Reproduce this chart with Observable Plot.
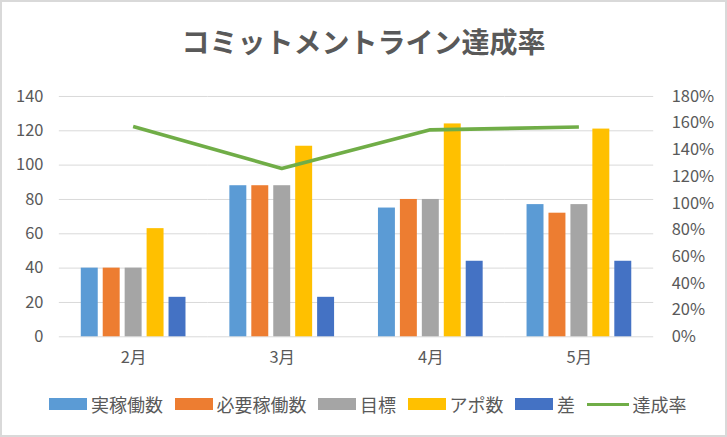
<!DOCTYPE html>
<html>
<head>
<meta charset="utf-8">
<script src="https://cdn.jsdelivr.net/npm/d3@7"></script>
<script src="https://cdn.jsdelivr.net/npm/@observablehq/plot@0.6"></script>
<style>
  html, body { margin: 0; padding: 0; background: #fff; }
  #chart { position: relative; width: 727px; height: 437px; box-sizing: border-box; border: 2px solid #d9d9d9; overflow: hidden; font-family: "Noto Sans CJK JP", "Noto Sans", sans-serif; color: #595959; }
  #title { position: absolute; left: 0; width: 723px; top: 19px; height: 40px; line-height: 40px; text-align: center; font-size: 28px; font-weight: bold; color: #595959; }
  .layer { position: absolute; left: -2px; top: 78px; }
  #legend { position: absolute; left: 47px; top: 390px; height: 24px; display: flex; align-items: center; font-size: 18px; line-height: 24px; color: #595959; white-space: nowrap; }
  .item { display: flex; align-items: center; margin-right: 11.5px; }
  .sw { width: 38px; height: 12px; margin-right: 4px; }
  .ln { width: 42px; height: 3px; margin-right: 4px; }
</style>
</head>
<body>
<div id="chart">
  <div id="title">コミットメントライン達成率</div>
  <div id="bars" class="layer"></div>
  <div id="line" class="layer"></div>
  <div id="legend"></div>
</div>
<script>
const months = ["2月", "3月", "4月", "5月"];
const seriesNames = ["実稼働数", "必要稼働数", "目標", "アポ数", "差"];
const actual   = [40, 88, 75, 77];
const required = [40, 88, 80, 72];
const target   = [40, 88, 80, 77];
const appo     = [63, 111, 124, 121];
const diff     = [23, 23, 44, 44];
const rateName = "達成率";
const rate     = [1.575, 1.261, 1.55, 1.571];
const leftTicks  = [0, 20, 40, 60, 80, 100, 120, 140];
const rightTicks = [0, 0.2, 0.4, 0.6, 0.8, 1.0, 1.2, 1.4, 1.6, 1.8];
const barColors = ["#5b9bd5", "#ed7d31", "#a5a5a5", "#ffc000", "#4472c4"];
const lineColor = "#70ad47";

const seriesValues = [actual, required, target, appo, diff];
const rows = months.flatMap((m, i) => seriesNames.map((s, j) => ({month: m, series: s, value: seriesValues[j][i]})));

const common = {
  width: 727, height: 300,
  marginLeft: 58, marginRight: 72, marginTop: 16, marginBottom: 43,
  style: {fontFamily: '"Noto Sans CJK JP", "Noto Sans", sans-serif', fontSize: "16px", color: "#595959", background: "transparent", overflow: "visible"}
};

const barPlot = Plot.plot({
  ...common,
  fx: {domain: months, padding: 0, label: null},
  x: {domain: seriesNames, paddingInner: 0.24, paddingOuter: 0.865, axis: null},
  y: {domain: [0, 140], label: null, axis: null},
  color: {domain: seriesNames, range: barColors},
  marks: [
    Plot.gridY(leftTicks, {stroke: "#d9d9d9", strokeOpacity: 1, strokeWidth: 1}),
    Plot.axisY(leftTicks, {anchor: "left", tickSize: 0, tickPadding: 16, label: null, fill: "#595959", fontSize: 16.5}),
    Plot.axisFx({anchor: "bottom", tickSize: 0, tickPadding: 15, label: null, fill: "#595959", fontSize: 16.5}),
    Plot.barY(rows, {fx: "month", x: "series", y: "value", fill: "series", inset: 0})
  ]
});
document.getElementById("bars").appendChild(barPlot);

const linePlot = Plot.plot({
  ...common,
  x: {domain: months, type: "point", padding: 0.5, axis: null},
  y: {domain: [0, 1.8], axis: null},
  marks: [
    Plot.axisY(rightTicks, {anchor: "right", tickSize: 0, tickPadding: 18, label: null, tickFormat: d => Math.round(d * 100) + "%", fill: "#595959", fontSize: 16.5}),
    Plot.lineY(rate, {x: months, y: rate, stroke: lineColor, strokeWidth: 3.6, strokeLinecap: "butt", strokeLinejoin: "round"})
  ]
});
document.getElementById("line").appendChild(linePlot);

const legend = document.getElementById("legend");
seriesNames.forEach((s, j) => {
  const it = document.createElement("div");
  it.className = "item";
  it.innerHTML = `<div class="sw" style="background:${barColors[j]}"></div><span>${s}</span>`;
  legend.appendChild(it);
});
const li = document.createElement("div");
li.className = "item";
li.innerHTML = `<div class="ln" style="background:${lineColor}"></div><span>${rateName}</span>`;
legend.appendChild(li);
</script>
</body>
</html>
